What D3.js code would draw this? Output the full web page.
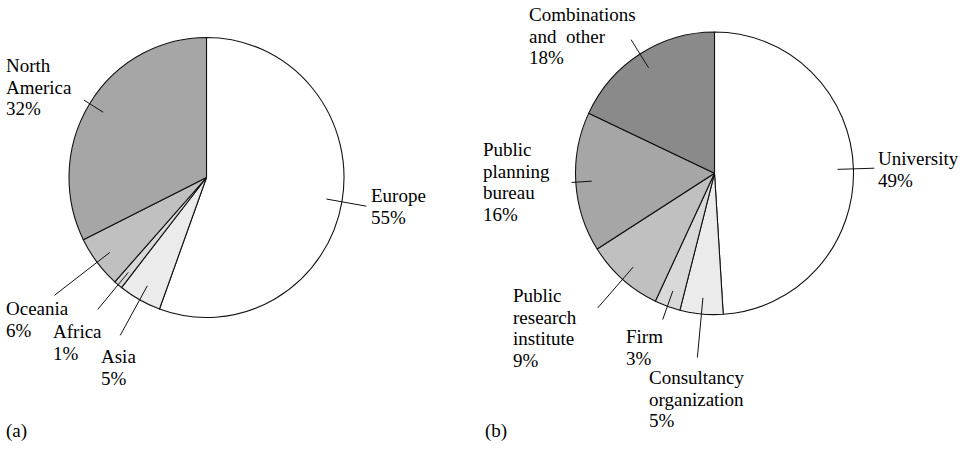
<!DOCTYPE html>
<html><head><meta charset="utf-8">
<script src="https://cdn.jsdelivr.net/npm/d3@7"></script>
</head>
<body style="margin:0">
<script>
// ---- data ----
const regionNames = ["Europe","Asia","Africa","Oceania","North America"];
const regionValues = [55,5,1,6,32];
const regionLabels = [["Europe","55%"],["Asia","5%"],["Africa","1%"],["Oceania","6%"],["North","America","32%"]];

const orgNames = ["University","Consultancy organization","Firm","Public research institute","Public planning bureau","Combinations and other"];
const orgValues = [49,5,3,9,16,18];
const orgLabels = [["University","49%"],["Consultancy","organization","5%"],["Firm","3%"],["Public","research","institute","9%"],["Public","planning","bureau","16%"],["Combinations","and\u00a0\u00a0other","18%"]];

const panelTags = ["(a)","(b)"];

// ---- layout / style (not data) ----
const W = 972, H = 453;
const regionFills = ["#ffffff","#ebebeb","#d9d9d9","#c0c0c0","#a6a6a6"];
const orgFills = ["#ffffff","#ebebeb","#d9d9d9","#c0c0c0","#a6a6a6","#8a8a8a"];
// leader outer radius factor, label x, first baseline y
const regionLayout = [
  {out:1.18, lx:371, ly:202},
  {out:1.29, lx:101, ly:363},
  {out:1.23, lx:53,  ly:338},
  {out:1.39, lx:6,   ly:315},
  {out:1.05, lx:6,   ly:72}
];
const orgLayout = [
  {out:1.15, lx:878, ly:165},
  {out:1.31, lx:649, ly:384},
  {out:1.10, lx:626, ly:343},
  {out:1.27, lx:513, ly:302},
  {out:1.03, lx:483, ly:156},
  {out:1.12, lx:529, ly:21}
];
const lineH = 21.5;

const svg = d3.select("body").append("svg").attr("width",W).attr("height",H);

function addText(x, y, s){
  svg.append("text").attr("x",x).attr("y",y)
    .attr("font-family","Liberation Serif").attr("font-size",19)
    .text(s);
}

function drawPie(cx, cy, rx, ry, values, fills, labels, layout){
  const sx = rx/ry;
  const pie = d3.pie().sort(null).value(d=>d);
  const arcs = pie(values);
  const arc = d3.arc().innerRadius(0).outerRadius(ry);
  const g = svg.append("g").attr("transform",`translate(${cx},${cy}) scale(${sx},1)`);
  g.selectAll("path.slice").data(arcs).join("path")
    .attr("class","slice")
    .attr("d",arc)
    .attr("fill",(d,i)=>fills[i])
    .attr("stroke","#111")
    .attr("stroke-width",1.1)
    .attr("stroke-linejoin","round");
  arcs.forEach((d,i)=>{
    const a = (d.startAngle+d.endAngle)/2;
    const rIn = 0.885*ry, rOut = layout[i].out*ry;
    const x1 = cx + Math.sin(a)*rIn*sx, y1 = cy - Math.cos(a)*rIn;
    const x2 = cx + Math.sin(a)*rOut*sx, y2 = cy - Math.cos(a)*rOut;
    svg.append("line").attr("x1",x1).attr("y1",y1).attr("x2",x2).attr("y2",y2)
      .attr("stroke","#111").attr("stroke-width",1);
  });
  labels.forEach((lines,i)=>{
    lines.forEach((s,j)=> addText(layout[i].lx, layout[i].ly + j*lineH, s));
  });
}

drawPie(206.5, 177.5, 137.5, 140, regionValues, regionFills, regionLabels, regionLayout);
drawPie(714.5, 173.3, 139, 141.3, orgValues, orgFills, orgLabels, orgLayout);

addText(6, 437, panelTags[0]);
addText(485, 437, panelTags[1]);
</script>
</body></html>
